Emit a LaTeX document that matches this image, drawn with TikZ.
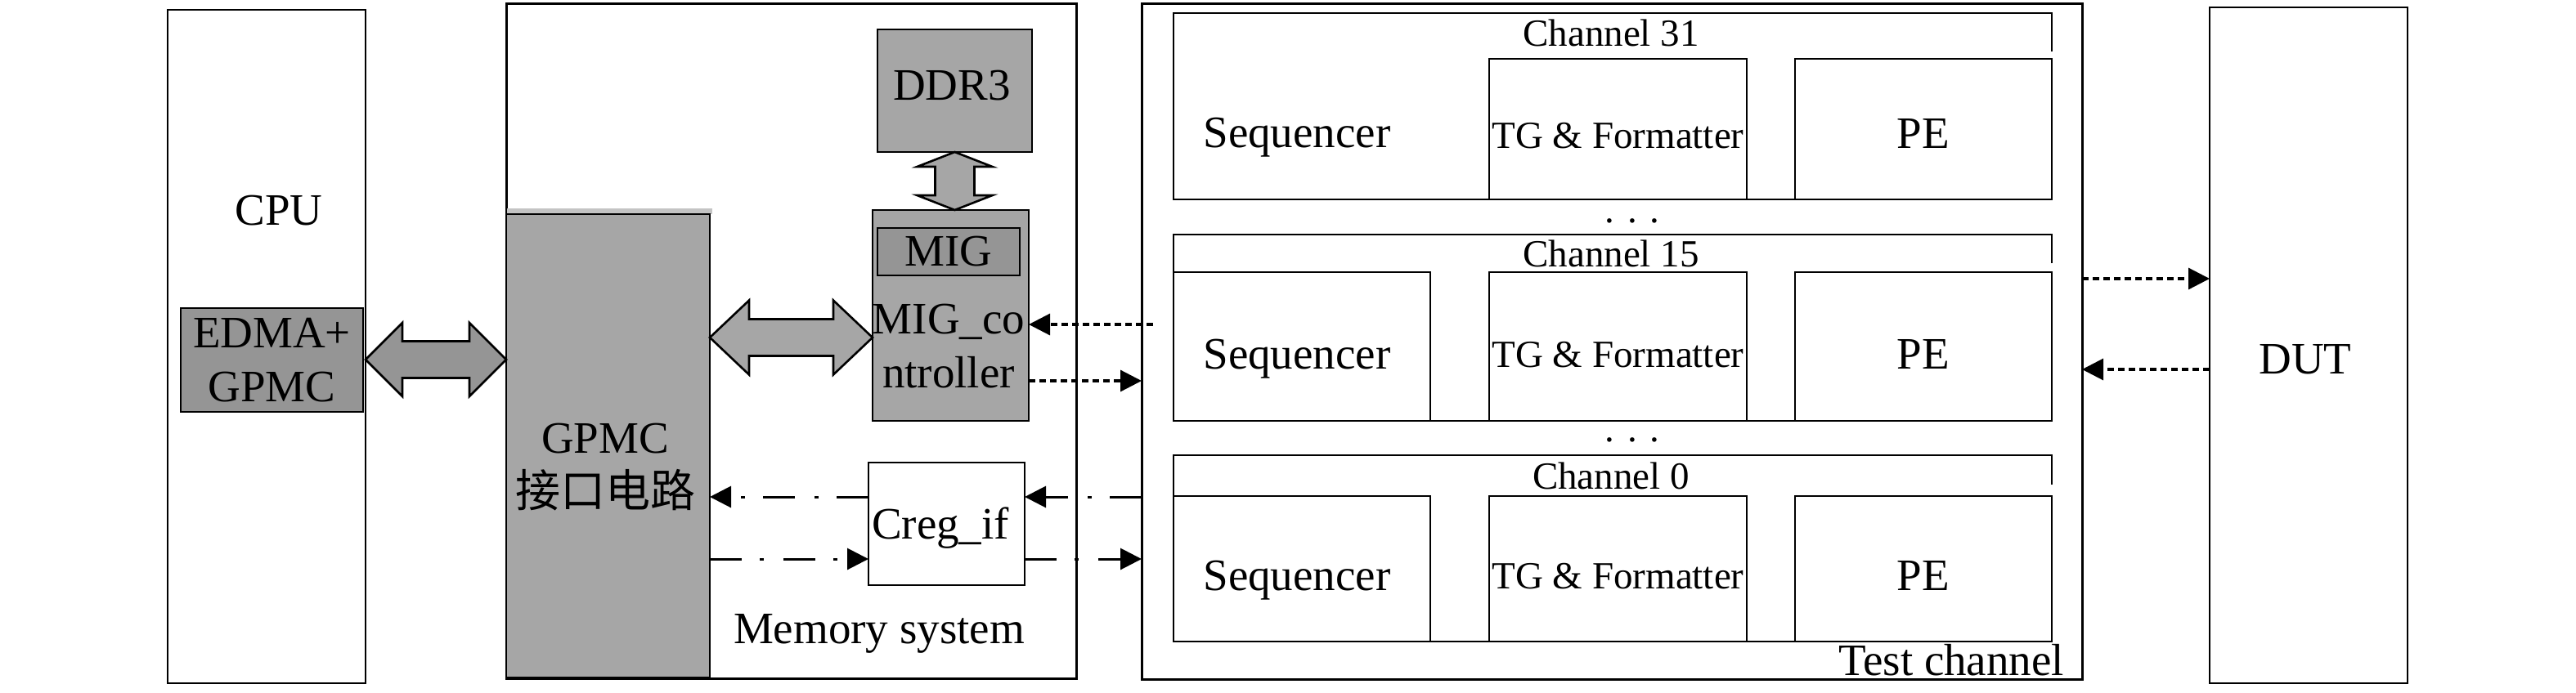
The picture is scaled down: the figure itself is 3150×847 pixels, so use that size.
\documentclass[tikz,border=0pt]{standalone}
\usepackage{fontspec}
\setmainfont{Liberation Serif}
\newfontfamily\cjk{Noto Sans CJK SC}
\usetikzlibrary{arrows.meta,calc}
\definecolor{gA}{HTML}{A6A6A6}
\definecolor{gB}{HTML}{959595}
\definecolor{gL}{HTML}{C4C4C4}
\begin{document}
\begin{tikzpicture}[x=0.5pt,y=-0.5pt,
  every node/.style={font=\fontsize{27.5}{33}\selectfont, inner sep=0pt, outer sep=0pt},
  sm/.style={font=\fontsize{23.5}{28}\selectfont},
  box/.style={draw, line width=1.3pt, rectangle},
  sz/.style 2 args={minimum width=#1*0.5pt, minimum height=#2*0.5pt},
  chline/.style={line width=1.4pt},
  txt/.style={anchor=base},
  bigarrow/.style={draw, line width=1.3pt, line join=miter},
  dotarr/.style={line width=1.6pt, dash pattern=on 4pt off 2.5pt, -{Triangle[length=13pt,width=13pt]}},
  dasharr/.style={line width=1.5pt, dash pattern=on 19.5pt off 11pt on 2.5pt off 12pt, -{Triangle[length=13pt,width=13pt]}}
]
\useasboundingbox (0,0) rectangle (3150,847);

% CPU
\node[box, sz={242}{824}] (cpu) at (326,424) {};
\node (cputxt) at (341,258) {CPU};
\node[box, fill=gB, sz={223}{127}, align=center] (edma) at (332.5,440.5) {EDMA+\\GPMC};

% Memory system
\node[box, line width=1.5pt, sz={697}{826}] (mem) at (967.5,417) {};
\fill[gL] (620,255) rectangle (871,262);
\node[box, fill=gA, sz={249}{567}] (gpmc) at (743.5,545.5) {};
\node[align=center] (gpmctxt) at (740,572) {GPMC\\{\cjk 接口电路}};
\node[box, fill=gA, sz={189}{150}] (ddr) at (1167.5,111) {};
\node[txt] (ddrtxt) at (1164,122) {DDR3};
\node[box, fill=gA, sz={191}{258}] (mig) at (1162.5,386) {};
\node[box, fill=gB, sz={174}{58}] (miginner) at (1160,308) {MIG};
\node[align=center] (migtxt) at (1160,424) {MIG\_co\\ntroller};
\node[box, fill=white, sz={191}{150}] (creg) at (1157.5,641) {};
\node[txt] (cregtxt) at (1150,659) {Creg\_if};
\node (memlbl) at (1075,775) {Memory system};

% Test channel
\node[box, line width=1.5pt, sz={1150}{827}] (tc) at (1971,417.5) {};
\node[anchor=east] (tclbl) at (2524,808) {Test channel};

% Channel 31
\draw[chline] (2509,63) -- (2509,16) -- (1435,16) -- (1435,244) -- (2509,244);
\node[sm] (t31) at (1970,40) {Channel 31};
\node[box, chline, sz={315}{172}] (tg31) at (1978.5,158) {};
\node[box, chline, sz={314}{172}] (pe31) at (2352,158) {};
\node[txt] (seq31txt) at (1586,180) {Sequencer};
\node[txt, sm] (tg31txt) at ($(tg31.center)+(0,23)$) {TG \& Formatter};
\node[txt] (pe31txt) at ($(pe31.center)+(0,23)$) {PE};
\node[sm, anchor=base] (dots1) at (1996,272) {.\hspace{8pt}.\hspace{8pt}.};

% Channel 15
\draw[chline] (2509,322) -- (2509,287) -- (1435,287) -- (1435,515) -- (2509,515);
\node[sm] (t15) at (1970,310) {Channel 15};
\node[box, chline, sz={314}{182}] (seq15) at (1592,424) {};
\node[box, chline, sz={315}{182}] (tg15) at (1978.5,424) {};
\node[box, chline, sz={314}{182}] (pe15) at (2352,424) {};
\node[txt] (seq15txt) at ($(seq15.center)+(-6,27)$) {Sequencer};
\node[txt, sm] (tg15txt) at ($(tg15.center)+(0,25)$) {TG \& Formatter};
\node[txt] (pe15txt) at ($(pe15.center)+(0,27)$) {PE};
\node[sm, anchor=base] (dots2) at (1996,540) {.\hspace{8pt}.\hspace{8pt}.};

% Channel 0
\draw[chline] (2509,593) -- (2509,557) -- (1435,557) -- (1435,785) -- (2509,785);
\node[sm] (t0) at (1970,582) {Channel 0};
\node[box, chline, sz={314}{178}] (seq0) at (1592,696) {};
\node[box, chline, sz={315}{178}] (tg0) at (1978.5,696) {};
\node[box, chline, sz={314}{178}] (pe0) at (2352,696) {};
\node[txt] (seq0txt) at ($(seq0.center)+(-6,26)$) {Sequencer};
\node[txt, sm] (tg0txt) at ($(tg0.center)+(0,24)$) {TG \& Formatter};
\node[txt] (pe0txt) at ($(pe0.center)+(0,26)$) {PE};

% DUT
\node[box, sz={242}{827}] (dut) at (2823,422.5) {};
\node (duttxt) at (2819,440) {DUT};

% big double arrows
\coordinate (a1l) at (cpu.east |- 0,440);
\coordinate (a1r) at (gpmc.west |- 0,440);
\draw[bigarrow, fill=gB] (a1l) -- ++(45,-45) -- ++(0,22.5) -- ($(a1r)+(-45,-22.5)$) -- ++(0,-22.5)
  -- (a1r) -- ++(-45,45) -- ++(0,-22.5) -- ($(a1l)+(45,22.5)$) -- ++(0,22.5) -- cycle;

\coordinate (a2l) at (gpmc.east |- 0,413);
\coordinate (a2r) at (mig.west |- 0,413);
\draw[bigarrow, fill=gA] (a2l) -- ++(48,-45.5) -- ++(0,23) -- ($(a2r)+(-48,-22.5)$) -- ++(0,-23)
  -- (a2r) -- ++(-48,45.5) -- ++(0,-23) -- ($(a2l)+(48,22.5)$) -- ++(0,23) -- cycle;

\coordinate (a3t) at (ddr.south);
\coordinate (a3b) at (ddr.south |- mig.north);
\draw[bigarrow, fill=gA] (a3t) -- ++(46,18) -- ++(-22,0) -- ($(a3b)+(24,-18)$) -- ++(22,0)
  -- (a3b) -- ++(-46,-18) -- ++(22,0) -- ($(a3t)+(-24,18)$) -- ++(-22,0) -- cycle;

% signal connectors
\coordinate (mstart) at (1410,397);
\draw[dotarr] (mstart) -- (mig.east |- 0,397);
\draw[dotarr] (mig.east |- 0,466) -- (tc.west |- 0,466);
\draw[dasharr] (tc.west |- 0,608) -- (creg.east |- 0,608);
\draw[dasharr] (creg.east |- 0,684) -- (tc.west |- 0,684);
\draw[dasharr] (creg.west |- 0,608) -- (gpmc.east |- 0,608);
\draw[dasharr] (gpmc.east |- 0,684) -- (creg.west |- 0,684);
\draw[dotarr] (tc.east |- 0,341) -- (dut.west |- 0,341);
\draw[dotarr] (dut.west |- 0,452) -- (tc.east |- 0,452);
\end{tikzpicture}
\end{document}
